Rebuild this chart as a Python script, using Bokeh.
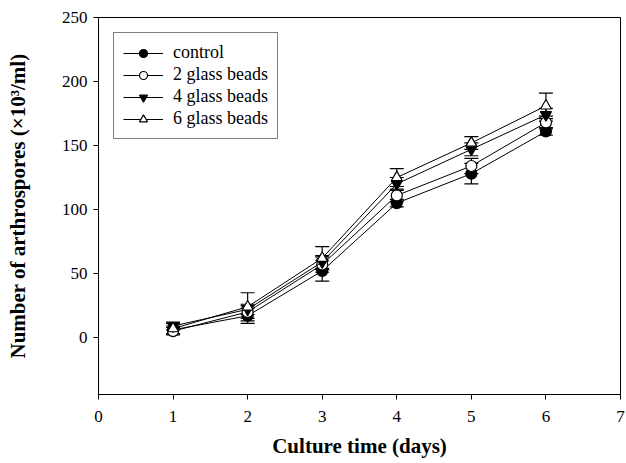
from bokeh.plotting import figure
from bokeh.models import ColumnDataSource, Whisker, TeeHead, FixedTicker, Range1d, Legend, LegendItem
from bokeh.embed import file_html
from bokeh.resources import INLINE

days = [1, 2, 3, 4, 5, 6]
control = [6, 17, 52, 105, 128, 161]
beads2 = [5, 20, 57, 111, 134, 168]
beads4 = [9, 22, 59, 120, 147, 174]
beads6 = [7, 24, 62, 125, 152, 181]
err_control = [3, 6, 8, 3, 8, 3]
err_beads2 = [3, 5, 6, 5, 6, 5]
err_beads4 = [3, 4, 5, 5, 5, 5]
err_beads6 = [4, 11, 9, 7, 5, 10]
series_names = ["control", "2 glass beads", "4 glass beads", "6 glass beads"]
x_ticks = [0, 1, 2, 3, 4, 5, 6, 7]
y_ticks = [0, 50, 100, 150, 200, 250]

SERIF = "Liberation Serif"

p = figure(width=626, height=463, output_backend="svg", toolbar_location=None,
           x_range=Range1d(0, 7), y_range=Range1d(-44.5, 250),
           min_border_left=98, min_border_right=6, min_border_top=17, min_border_bottom=69)
p.grid.visible = False
p.outline_line_color = "black"
p.outline_line_width = 1
p.background_fill_color = "white"
p.border_fill_color = "white"

for ax in (p.xaxis[0], p.yaxis[0]):
    ax.axis_line_color = "black"
    ax.major_tick_line_color = "black"
    ax.major_tick_out = 5
    ax.major_tick_in = 0
    ax.minor_tick_line_color = None
    ax.major_label_text_font = SERIF
    ax.major_label_text_font_size = "17px"
    ax.major_label_text_color = "black"
    ax.axis_label_text_font = SERIF
    ax.axis_label_text_font_style = "bold"
    ax.axis_label_text_font_size = "21px"
    ax.axis_label_text_color = "black"

p.xaxis.ticker = FixedTicker(ticks=x_ticks)
p.yaxis.ticker = FixedTicker(ticks=y_ticks)
p.xaxis.axis_label = "Culture time (days)"
p.yaxis.axis_label = "Number of arthrospores (\u00d710\u00b3/ml)"
p.xaxis.major_label_standoff = 11
p.xaxis.axis_label_standoff = 9
p.yaxis.major_label_standoff = 6
p.yaxis.axis_label_standoff = 29

all_vals = [control, beads2, beads4, beads6]
all_errs = [err_control, err_beads2, err_beads4, err_beads6]
markers = ["circle", "circle", "inverted_triangle", "triangle"]
fills = ["black", "white", "black", "white"]
sizes = [11, 11, 11, 11]

items = []
for name, vals, errs, mk, fc, sz in zip(series_names, all_vals, all_errs, markers, fills, sizes):
    src = ColumnDataSource(dict(
        x=days, y=vals,
        upper=[v + e for v, e in zip(vals, errs)],
        lower=[v - e for v, e in zip(vals, errs)],
    ))
    w = Whisker(source=src, base="x", upper="upper", lower="lower",
                line_color="black", line_width=1.2,
                upper_head=TeeHead(size=14, line_color="black", line_width=1.2),
                lower_head=TeeHead(size=14, line_color="black", line_width=1.2))
    p.add_layout(w)
    ln = p.line("x", "y", source=src, line_color="black", line_width=1)
    sc = p.scatter("x", "y", source=src, marker=mk, size=sz,
                   fill_color=fc, line_color="black", line_width=1.2)
    items.append(LegendItem(label=name, renderers=[ln, sc]))

legend = Legend(items=items, location="top_left", margin=15,
                label_text_font=SERIF, label_text_font_size="18px",
                label_text_color="black", label_standoff=10,
                glyph_width=40, glyph_height=20, label_height=20,
                spacing=1, padding=9,
                border_line_color="black", border_line_width=1,
                background_fill_alpha=1)
p.add_layout(legend, "center")

open("out.html", "w").write(file_html(p, INLINE))
